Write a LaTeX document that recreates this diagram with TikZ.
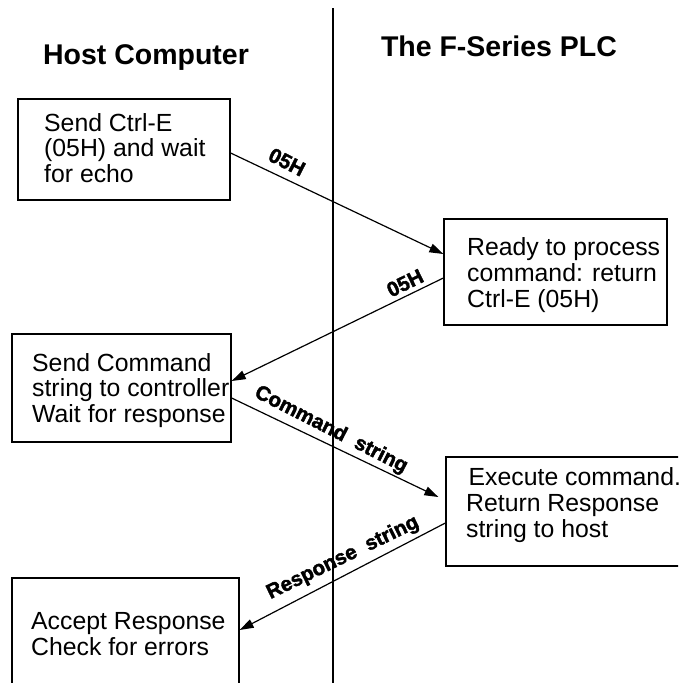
\documentclass[tikz,border=0pt]{standalone}
\usepackage{fontspec}
\setmainfont{Liberation Sans}
\newfontfamily\lblfont[FakeBold=2]{Liberation Sans Bold}
\usetikzlibrary{arrows.meta,calc}
\begin{document}
\begin{tikzpicture}[x=1pt,y=-1pt,
  box/.style={draw,line width=1.3pt,inner sep=0pt},
  txt/.style={font=\fontsize{24.8}{25.8}\selectfont,align=left,inner sep=0pt,anchor=west},
  ttl/.style={font=\bfseries\fontsize{28.5}{30}\selectfont,inner sep=0pt,anchor=base},
  lbl/.style={font=\lblfont\fontsize{20.5}{21}\selectfont,inner sep=0pt},
  arr/.style={line width=1.2pt,-{Triangle[length=14pt,width=9pt]}}]
\useasboundingbox (0,0) rectangle (678,683);
\clip (0,0) rectangle (678,683);
% divider
\coordinate (vt) at (333,8);
\coordinate (vb) at (333,690);
\draw[line width=1.5pt] (vt) -- (vb);
% titles
\node[ttl] (host) at (146,64) {Host Computer};
\node[ttl] (plc) at (499,56) {The F-Series PLC};
% boxes
\node[box,minimum width=212pt,minimum height=101pt] (b1) at (124,149.5) {};
\node[box,minimum width=223pt,minimum height=106pt] (b2) at (555.5,272) {};
\node[box,minimum width=219pt,minimum height=108pt] (b3) at (121.5,388) {};
\node[box,minimum width=254pt,minimum height=109pt] (b4) at (573,511.5) {};
\node[box,minimum width=227pt,minimum height=122pt] (b5) at (125.5,639) {};
% texts
\node[txt] (t1) at (44,148) {Send Ctrl-E\\(05H) and wait\\for echo};
\node[txt] (t2) at (467,275) {Ready to process\\command: return\\Ctrl-E (05H)};
\node[txt] (t3) at (32,390.5) {Send Command\\string to controller\\Wait for response};
\node[txt] (t4) at (466,505) {\hspace*{2.5pt}Execute command.\\Return Response\\string to host};
\node[txt] (t5) at (31,634) {Accept Response\\Check for errors};
% connectors
\draw[arr] ([yshift=-3.5pt]b1.east) -- ([yshift=18pt]b2.west);
\draw[arr] ([yshift=-6pt]b2.west) -- ([yshift=7pt]b3.east);
\draw[arr] ([yshift=-10pt]b3.east) -- ([xshift=-7pt,yshift=14.5pt]b4.west);
\draw[arr] ([yshift=-11.5pt]b4.west) -- ([yshift=9pt]b5.east);
% labels
\node[lbl,rotate=-27] (l1) at (287,162) {05H};
\node[lbl,rotate=26] (l2) at (405,283) {05H};
\node[lbl,rotate=-27] (l3) at (331,430) {Command\ \ string};
\node[lbl,rotate=26] (l4) at (343,558) {Response\ \ string};
\end{tikzpicture}
\end{document}
